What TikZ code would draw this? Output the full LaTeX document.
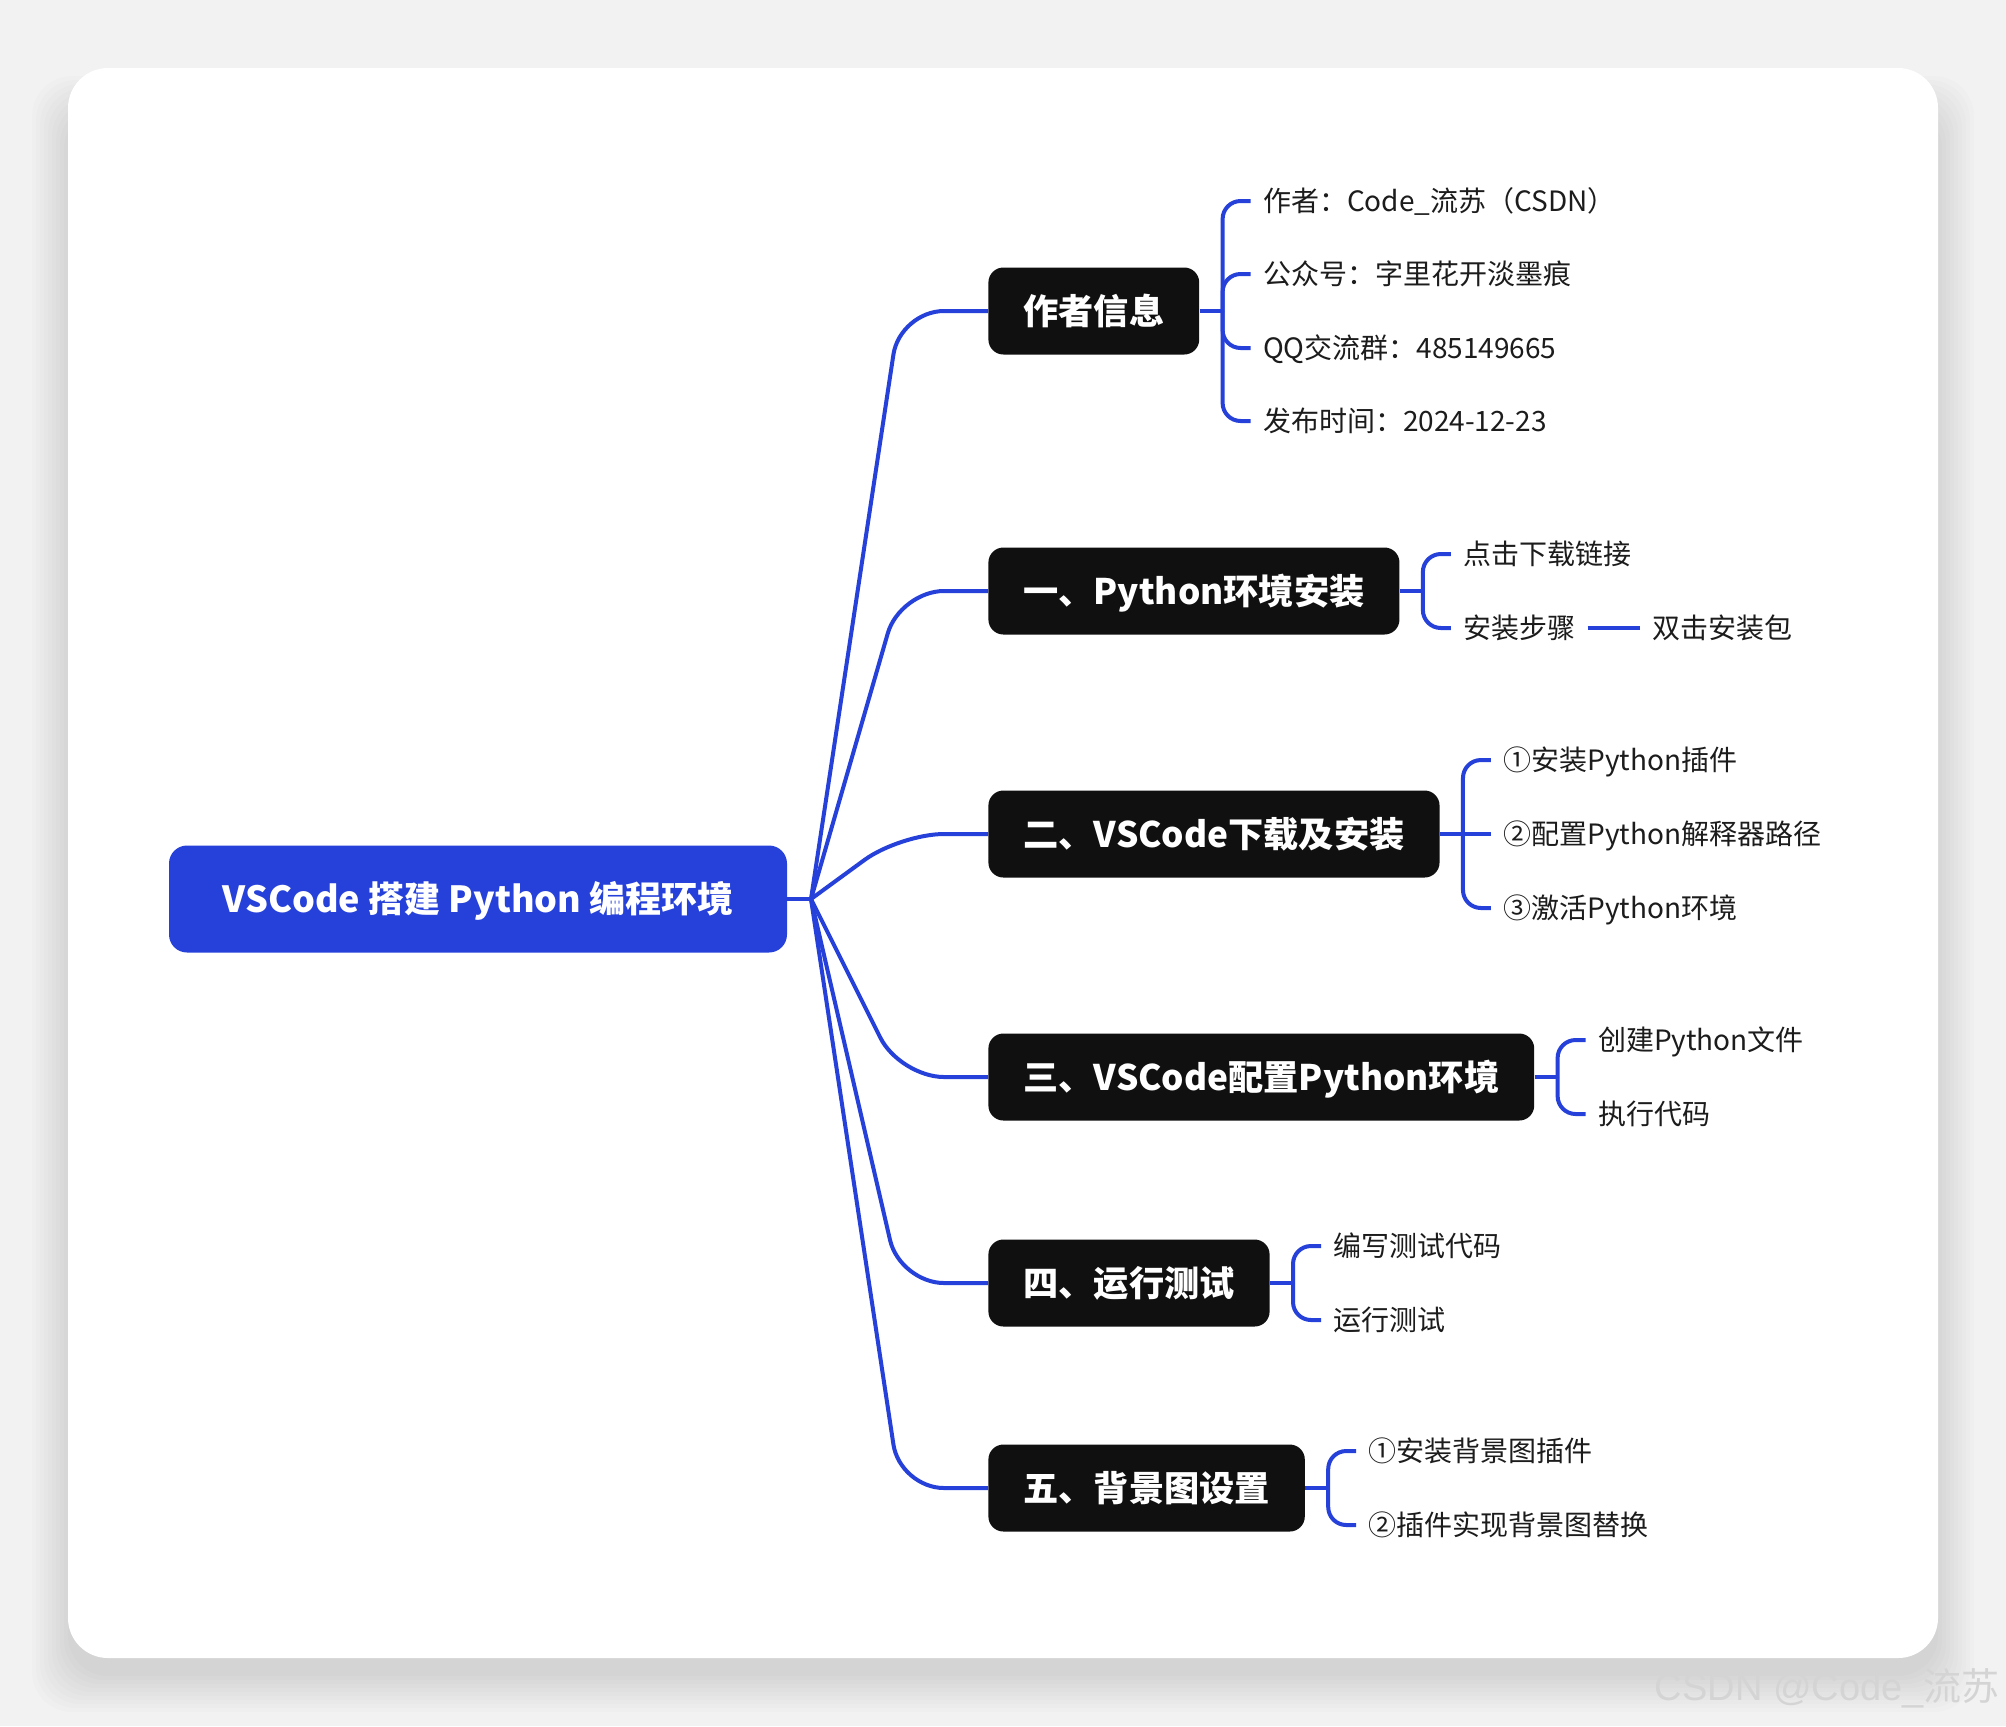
\documentclass[tikz,border=0pt]{standalone}
\usepackage{fontspec}
\setmainfont{Noto Sans CJK SC}
\newfontfamily\wmfont{Liberation Sans}
\usepackage{tikz}
\usetikzlibrary{positioning, calc}
\usepackage{xcolor}

\definecolor{bgcol}{HTML}{F2F2F2}
\definecolor{mapblue}{HTML}{2541D9}
\definecolor{topicblack}{HTML}{101010}
\definecolor{leafcol}{HTML}{1C1C1C}

\tikzset{
  root/.style={fill=mapblue, text=white, rounded corners=9pt, minimum width=309pt,
    minimum height=53.5pt, font=\fontsize{18}{18}\selectfont\bfseries,
    text height=13.6pt, text depth=0pt},
  topic/.style={fill=topicblack, text=white, rounded corners=7.5pt, minimum height=43.5pt,
    inner xsep=17.5pt, font=\fontsize{17.6}{18}\selectfont\bfseries,
    text height=13.4pt, text depth=0pt, anchor=west},
  leaf/.style={text=leafcol, inner xsep=6pt, inner ysep=0pt, font=\fontsize{14}{14}\selectfont,
    text height=10.5pt, text depth=0pt, anchor=west},
  branch/.style={draw=mapblue, line width=2pt, rounded corners=22pt},
  twig/.style={draw=mapblue, line width=2pt, rounded corners=9pt},
}

\begin{document}
\begin{tikzpicture}[x=0.5pt, y=-0.5pt]
            % page, card and its shadow
            \useasboundingbox (0,0) rectangle (2006,1726);
            \clip (0,0) rectangle (2006,1726);
            \fill[bgcol] (0,0) rectangle (2006,1726);
            \foreach \s in {0,4,...,36}
              \fill[black, opacity=0.011, rounded corners=20pt] ({68-\s},{112-\s}) rectangle ({1938+\s},{1676+\s});
            \fill[white, rounded corners=20pt] (68,68) rectangle (1938,1658);
            \node[anchor=south east, text=black!17, inner sep=0pt, font=\fontsize{19}{19}\selectfont] (mark) at (2000,1708) {{\wmfont CSDN @Code\_}流苏};

            % root and topics
            \node[root] (root) at (478,899) {VSCode 搭建 Python 编程环境};
            \coordinate (hub) at (811,899);
            \coordinate (bend) at (900,899);

            \node[topic] (info) at (988,311) {作者信息};
            \node[topic] (py) at (988,591) {一、Python环境安装};
            \node[topic] (vs) at (988,834) {二、VSCode下载及安装};
            \node[topic] (cfg) at (988,1077) {三、VSCode配置Python环境};
            \node[topic] (run) at (988,1283) {四、运行测试};
            \node[topic] (bg) at (988,1488) {五、背景图设置};

            \draw[branch] (root.east) -- (hub);
            \foreach \t in {info,py,vs,cfg,run,bg} {
              \draw[branch] (hub) -- (bend |- \t.west) -- (\t.west);
              \coordinate (\t-j) at ($(\t.east)+(23,0)$);
            }

            % leaves
            \node[leaf] (info1) at ($(info-j)+(28,-110)$) {作者：Code\_流苏（CSDN）};
            \node[leaf] (info2) at ($(info-j)+(28,-37)$) {公众号：字里花开淡墨痕};
            \node[leaf] (info3) at ($(info-j)+(28,37)$) {QQ交流群：485149665};
            \node[leaf] (info4) at ($(info-j)+(28,110)$) {发布时间：2024-12-23};

            \node[leaf] (py1) at ($(py-j)+(28,-37)$) {点击下载链接};
            \node[leaf] (py2) at ($(py-j)+(28,37)$) {安装步骤};
            \node[leaf, right=26pt of py2] (py3) {双击安装包};

            \node[leaf] (vs1) at ($(vs-j)+(28,-74)$) {①安装Python插件};
            \node[leaf] (vs2) at ($(vs-j)+(28,0)$) {②配置Python解释器路径};
            \node[leaf] (vs3) at ($(vs-j)+(28,74)$) {③激活Python环境};

            \node[leaf] (cfg1) at ($(cfg-j)+(28,-37)$) {创建Python文件};
            \node[leaf] (cfg2) at ($(cfg-j)+(28,37)$) {执行代码};

            \node[leaf] (run1) at ($(run-j)+(28,-37)$) {编写测试代码};
            \node[leaf] (run2) at ($(run-j)+(28,37)$) {运行测试};

            \node[leaf] (bg1) at ($(bg-j)+(28,-37)$) {①安装背景图插件};
            \node[leaf] (bg2) at ($(bg-j)+(28,37)$) {②插件实现背景图替换};

            % brackets
            \foreach \t in {info,py,vs,cfg,run,bg}
              \draw[twig] (\t.east) -- (\t-j);
            \foreach \t/\c in {info/info1,info/info2,info/info3,info/info4,py/py1,py/py2,vs/vs1,vs/vs3,cfg/cfg1,cfg/cfg2,run/run1,run/run2,bg/bg1,bg/bg2}
              \draw[twig] (\t-j) -- (\t-j |- \c.west) -- (\c.west);
            \draw[twig] (vs-j) -- (vs2.west);
            \draw[twig] (py2.east) -- (py3.west);
        \end{tikzpicture}
\end{document}
